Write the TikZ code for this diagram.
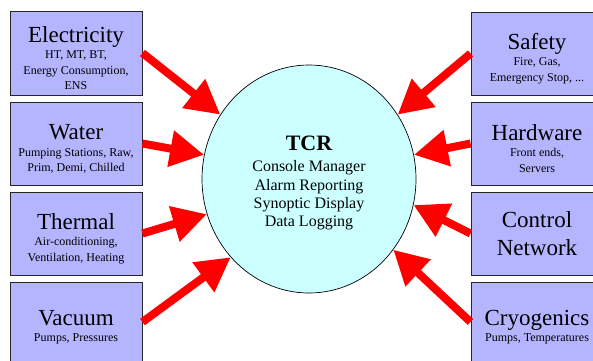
\documentclass[tikz,border=0pt]{standalone}
\usepackage{fontspec}
\setmainfont{Liberation Serif}
\usetikzlibrary{shapes.geometric,arrows.meta}
\definecolor{boxfill}{RGB}{180,180,255}
\definecolor{circfill}{RGB}{204,255,255}
\tikzset{
  sysbox/.style={draw=black!85,line width=0.9pt,fill=boxfill,minimum width=132pt,inner sep=0pt,align=center,font={\fontsize{12}{15.5}\selectfont}},
  hub/.style={ellipse,draw=black,line width=0.7pt,fill=circfill,minimum width=214pt,minimum height=228pt,inner sep=0pt,align=center},
  feed/.style={draw=red,line width=8pt,-{Triangle[length=34pt,width=35pt]},shorten <=0pt}
}
\newcommand{\ttl}[1]{{\fontsize{23}{25}\selectfont\rule{0pt}{26pt}#1}}
\begin{document}
\begin{tikzpicture}[x=1pt,y=-1pt]
\useasboundingbox (0,0) rectangle (593,360);
% left boxes
\node[sysbox,minimum height=84pt] (elec) at (76,53) {\ttl{Electricity}\\[1pt] HT, MT, BT,\\ Energy Consumption,\\ ENS};
\node[sysbox,minimum height=83pt] (water) at (76,143.5) {\ttl{Water}\\[1pt] Pumping Stations, Raw,\\ Prim, Demi, Chilled};
\node[sysbox,minimum height=83pt] (therm) at (76,233.5) {\ttl{Thermal}\\[1pt] Air-conditioning,\\ Ventilation, Heating};
\node[sysbox,minimum height=80pt] (vac) at (76,322) {\ttl{Vacuum}\\[1pt] Pumps, Pressures};
% right boxes
\node[sysbox,minimum height=83pt] (safe) at (537,53.5) {\ttl{Safety}\\[1pt] Fire, Gas,\\ Emergency Stop, ...};
\node[sysbox,minimum height=83pt] (hard) at (537,143.5) {\ttl{Hardware}\\[1pt] Front ends,\\ Servers};
\node[sysbox,minimum height=83pt,font={\fontsize{23}{28}\selectfont}] (ctrl) at (537,233.5) {Control\\ Network};
\node[sysbox,minimum height=80pt] (cryo) at (537,322) {\ttl{Cryogenics}\\[1pt] Pumps, Temperatures};
% hub
\node[hub] (tcr) at (309,179) {};
\node[align=center,font={\fontsize{16}{18.3}\selectfont}] (tcrtxt) at (309,183) {{\fontsize{22}{24}\selectfont\bfseries TCR}\\[3pt] Console Manager\\ Alarm Reporting\\ Synoptic Display\\ Data Logging};
% arrows
\draw[feed] (elec.east) -- (tcr.144);
\draw[feed] (water.east) -- (tcr.167);
\draw[feed] (therm.east) -- (tcr.199);
\draw[feed] (vac.east) -- (tcr.225);
\draw[feed] (safe.west) -- (tcr.36);
\draw[feed] (hard.west) -- (tcr.13);
\draw[feed] (ctrl.west) -- (tcr.-14);
\draw[feed] (cryo.west) -- (tcr.-40);
\end{tikzpicture}
\end{document}
